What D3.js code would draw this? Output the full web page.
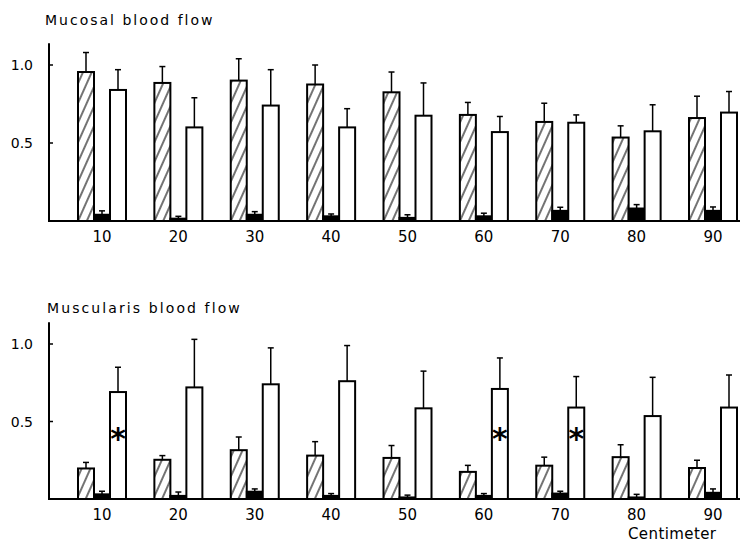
<!DOCTYPE html>
<html>
<head>
<meta charset="utf-8">
<script src="https://cdn.jsdelivr.net/npm/d3@7"></script>
<style>
  body { margin: 0; background: #fff; }
  svg { display: block; font-family: 'DejaVu Sans', 'Liberation Sans', sans-serif; }
  .bar { stroke: #000; stroke-width: 2; }
  .err { stroke: #000; stroke-width: 1.5; }
</style>
</head>
<body>
<div id="chart"></div>
<script>
;(function() {
  'use strict';
  var width = 746,
      height = 544;

  // centimeters from the anus
  var centimeters = [10, 20, 30, 40, 50, 60, 70, 80, 90];
  var seriesKeys = ['hatched', 'black', 'white'];
  var yTicks = [0.5, 1.0];

  // Mucosal blood flow: mean and mean + error
  var mucosalHatched    = [0.955, 0.885, 0.90, 0.875, 0.825, 0.68, 0.635, 0.535, 0.66];
  var mucosalHatchedErr = [1.08, 0.99, 1.04, 1.00, 0.955, 0.76, 0.755, 0.61, 0.80];
  var mucosalBlack      = [0.04, 0.015, 0.04, 0.03, 0.02, 0.03, 0.065, 0.08, 0.065];
  var mucosalBlackErr   = [0.065, 0.03, 0.06, 0.045, 0.04, 0.05, 0.088, 0.105, 0.09];
  var mucosalWhite      = [0.84, 0.60, 0.74, 0.60, 0.675, 0.57, 0.63, 0.575, 0.695];
  var mucosalWhiteErr   = [0.97, 0.79, 0.97, 0.72, 0.885, 0.67, 0.68, 0.745, 0.83];

  // Muscularis blood flow
  var muscHatched    = [0.197, 0.253, 0.315, 0.28, 0.265, 0.175, 0.215, 0.27, 0.20];
  var muscHatchedErr = [0.236, 0.28, 0.40, 0.37, 0.345, 0.217, 0.27, 0.35, 0.25];
  var muscBlack      = [0.03, 0.02, 0.047, 0.02, 0.01, 0.02, 0.035, 0.01, 0.04];
  var muscBlackErr   = [0.05, 0.045, 0.065, 0.035, 0.025, 0.035, 0.05, 0.03, 0.065];
  var muscWhite      = [0.69, 0.72, 0.74, 0.76, 0.585, 0.71, 0.59, 0.535, 0.59];
  var muscWhiteErr   = [0.85, 1.03, 0.975, 0.99, 0.825, 0.91, 0.79, 0.785, 0.80];
  var muscSignificant = [10, 60, 70];

  var svg = d3.select('#chart').append('svg')
    .attr('width', width)
    .attr('height', height);

  // diagonal hatch
  var defs = svg.append('defs');
  defs.append('pattern')
      .attr('id', 'hatch')
      .attr('patternUnits', 'userSpaceOnUse')
      .attr('width', 8)
      .attr('height', 8)
      .attr('patternTransform', 'rotate(24)')
    .append('line')
      .attr('x1', 4).attr('y1', 0)
      .attr('x2', 4).attr('y2', 8)
      .attr('stroke', '#000')
      .attr('stroke-width', 1.1);

  var x = d3.scalePoint().domain(centimeters).range([102, 713]),
      xInner = d3.scaleBand().domain(seriesKeys).range([-24, 24]);

  function panel(opts) {
    var y = d3.scaleLinear().domain([0, 1]).range([opts.base, opts.one]);
    var g = svg.append('g');

    g.append('text')
      .attr('x', opts.titleX)
      .attr('y', opts.titleY)
      .attr('font-size', 14)
      .attr('letter-spacing', opts.titleSpacing)
      .text(opts.title);

    // axis lines
    g.append('line')
      .attr('x1', 49).attr('x2', 49)
      .attr('y1', y(1.14)).attr('y2', opts.base + 1)
      .attr('stroke', '#000').attr('stroke-width', 2);

    var tick = g.selectAll('g.tick').data(yTicks).enter().append('g')
      .attr('class', 'tick')
      .attr('transform', function(d) { return 'translate(0,' + y(d) + ')'; });
    tick.append('line')
      .attr('x1', 49).attr('x2', 53)
      .attr('stroke', '#000').attr('stroke-width', 1.5);
    tick.append('text')
      .attr('x', 33)
      .attr('dy', '0.36em')
      .attr('text-anchor', 'end')
      .attr('font-size', 14)
      .text(function(d) { return d3.format('.1f')(d); });

    var groups = g.selectAll('g.group').data(centimeters).enter().append('g')
      .attr('class', 'group')
      .attr('transform', function(d) { return 'translate(' + x(d) + ',0)'; });

    groups.each(function(cm, i) {
      var gg = d3.select(this);
      seriesKeys.forEach(function(key) {
        var v = opts.values[key][i],
            e = opts.errors[key][i],
            bx = xInner(key),
            bw = xInner.bandwidth(),
            cx = bx + bw / 2;
        gg.append('line')
          .attr('class', 'err')
          .attr('x1', cx).attr('x2', cx)
          .attr('y1', y(v)).attr('y2', y(e));
        gg.append('line')
          .attr('class', 'err')
          .attr('x1', cx - 3).attr('x2', cx + 3)
          .attr('y1', y(e)).attr('y2', y(e));
        gg.append('rect')
          .attr('class', 'bar')
          .attr('x', bx)
          .attr('y', y(v))
          .attr('width', bw)
          .attr('height', opts.base - y(v))
          .attr('fill', key === 'hatched' ? 'url(#hatch)' : key === 'black' ? '#000' : '#fff');
      });
    });

    if (opts.stars) {
      // asterisk inside the white bar, drawn as text
      groups.filter(function(d) { return opts.stars.indexOf(d) >= 0; })
        .append('text')
        .attr('x', xInner('white') + xInner.bandwidth() / 2)
        .attr('y', y(0.44) + 30 * 0.6)
        .attr('text-anchor', 'middle')
        .attr('font-size', 30)
        .attr('font-weight', 'bold')
        .text('*');
    }

    // baseline
    g.append('line')
      .attr('x1', 48).attr('x2', 740)
      .attr('y1', opts.base).attr('y2', opts.base)
      .attr('stroke', '#000').attr('stroke-width', 2);

    g.selectAll('text.xlabel').data(centimeters).enter().append('text')
      .attr('class', 'xlabel')
      .attr('x', function(d) { return x(d); })
      .attr('y', opts.base + 21)
      .attr('text-anchor', 'middle')
      .attr('font-size', 15)
      .text(function(d) { return d; });
  }

  panel({
    title: 'Mucosal blood flow', titleX: 45, titleY: 25, titleSpacing: 2,
    base: 221, one: 65,
    values: { hatched: mucosalHatched, black: mucosalBlack, white: mucosalWhite },
    errors: { hatched: mucosalHatchedErr, black: mucosalBlackErr, white: mucosalWhiteErr }
  });

  panel({
    title: 'Muscularis blood flow', titleX: 47, titleY: 313, titleSpacing: 2.1,
    base: 499, one: 344,
    values: { hatched: muscHatched, black: muscBlack, white: muscWhite },
    errors: { hatched: muscHatchedErr, black: muscBlackErr, white: muscWhiteErr },
    stars: muscSignificant
  });

  svg.append('text')
    .attr('x', 628)
    .attr('y', 539)
    .attr('font-size', 15)
    .attr('letter-spacing', 0.4)
    .text('Centimeter');
})();
</script>
</body>
</html>
